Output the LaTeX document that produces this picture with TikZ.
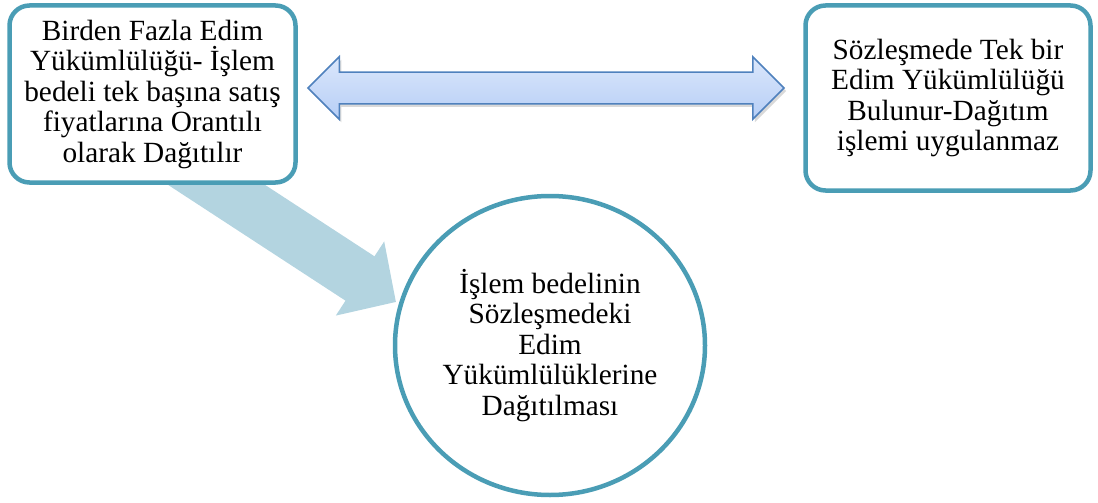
\documentclass[tikz,border=0pt]{standalone}
\usepackage{fontspec}
\setmainfont{Liberation Serif}
\usetikzlibrary{shapes.geometric,shapes.arrows,shadows,arrows.meta}
\definecolor{boxline}{HTML}{4A9DB5}
\definecolor{fatblue}{HTML}{B3D4E0}
\definecolor{arrowline}{HTML}{4F81BD}
\definecolor{arrowtop}{HTML}{DBE7FB}
\definecolor{arrowbot}{HTML}{B6CEF6}
\begin{document}
\begin{tikzpicture}[x=1pt,y=-1pt,
    statement/.style ={rectangle, rounded corners=20pt, draw=boxline, line width=4.5pt, fill=white,
                       align=center, inner sep=0pt, font=\fontsize{29.3}{30.5}\selectfont},
    result/.style ={ellipse, draw=boxline, line width=4.5pt, fill=white, align=center,
                    inner sep=0pt, minimum width=310pt, minimum height=299pt,
                    font=\fontsize{29.3}{30.5}\selectfont},
    link/.style ={double arrow, double arrow head extend=15.5pt, inner xsep=0pt, inner ysep=15pt,
                  minimum height=476pt, minimum width=61pt, draw=arrowline, line width=1.5pt,
                  top color=arrowtop, bottom color=arrowbot,
                  drop shadow={shadow xshift=2pt, shadow yshift=-3pt, opacity=0.3}},
    fatarrow/.style ={draw=fatblue, line width=53pt, -{Triangle[length=43pt,width=86pt]}}]
   \useasboundingbox (0,0) rectangle (1098,503);

   \coordinate (T) at (183,163);
   \coordinate (P) at (396,302);
   \draw[fatarrow] (T) -- (P);

   \node[statement, minimum width=286pt, minimum height=177pt] (L) at (152.5,94)
      {Birden Fazla Edim\\Yükümlülüğü- İşlem\\bedeli tek başına satış\\fiyatlarına Orantılı\\olarak Dağıtılır};
   \node[statement, minimum width=285pt, minimum height=185pt] (R) at (948,98)
      {Sözleşmede Tek bir\\Edim Yükümlülüğü\\Bulunur-Dağıtım\\işlemi uygulanmaz};
   \node[result] (C) at (550,345.5)
      {İşlem bedelinin\\Sözleşmedeki\\Edim\\Yükümlülüklerine\\Dağıtılması};

   \node[link] (A) at (546,88) {};
\end{tikzpicture}
\end{document}
